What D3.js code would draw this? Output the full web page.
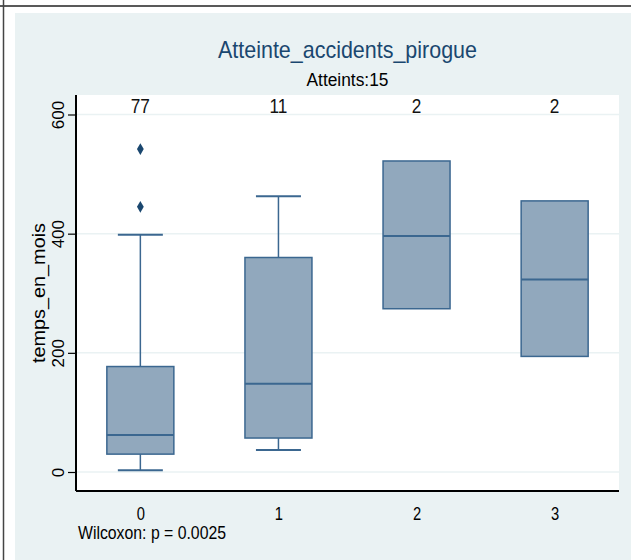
<!DOCTYPE html>
<html><head><meta charset="utf-8">
<script src="https://cdn.jsdelivr.net/npm/d3@7"></script>
<style>
html,body{margin:0;padding:0;background:#fff;}
svg text{font-family:"Liberation Sans",Arial,sans-serif;}
</style></head>
<body>
<svg id="c" width="631" height="560"></svg>
<script>
const categories = ["0","1","2","3"];
const counts = ["77","11","2","2"];
const q1 = [30, 57, 274, 194];
const median = [62, 148, 396, 323];
const q3 = [177, 360, 522, 455];
const whiskerLow = [3, 37, null, null];
const whiskerHigh = [398, 463, null, null];
const outliers = [[0, 542], [0, 445]];
const yTicks = [0, 200, 400, 600];
const titleText = "Atteinte_accidents_pirogue";
const subtitleText = "Atteints:15";
const yTitle = "temps_en_mois";
const noteText = "Wilcoxon: p = 0.0025";

const svg = d3.select("#c");
const W = 631, H = 560;
const L = 76, R = 619, T = 95, B = 491;
const NARROW = 0.82;

// outer frame
svg.append("rect").attr("x",0).attr("y",0).attr("width",W).attr("height",H).attr("fill","#fff");
svg.append("rect").attr("x",15).attr("y",13).attr("width",W-15).attr("height",H-13).attr("fill","#eaf2f3");
svg.append("line").attr("x1",0).attr("x2",W).attr("y1",6).attr("y2",6).attr("stroke","#222").attr("stroke-width",1.5);
svg.append("line").attr("x1",3.5).attr("x2",3.5).attr("y1",0).attr("y2",H).attr("stroke","#444").attr("stroke-width",1.5);

// plot region
svg.append("rect").attr("x",L).attr("y",T).attr("width",R-L).attr("height",B-T).attr("fill","#fff");

const x = d3.scalePoint().domain(categories).range([L,R]).padding(0.466);
const y = d3.scaleLinear().domain([0,600]).range([472,114.5]);

// gridlines
svg.append("g").selectAll("line").data(yTicks).join("line")
  .attr("x1",L).attr("x2",R).attr("y1",d=>y(d)).attr("y2",d=>y(d))
  .attr("stroke","#eaf2f3").attr("stroke-width",1.5);

const boxW = 67, capW = 45;
const fill = "#91a8bd", stroke = "#3b6790";
const g = svg.append("g");
categories.forEach((c,i)=>{
  const cx = x(c);
  if (whiskerHigh[i] != null) {
    g.append("line").attr("x1",cx).attr("x2",cx).attr("y1",y(q3[i])).attr("y2",y(whiskerHigh[i])).attr("stroke",stroke).attr("stroke-width",1.5);
    g.append("line").attr("x1",cx-capW/2).attr("x2",cx+capW/2).attr("y1",y(whiskerHigh[i])).attr("y2",y(whiskerHigh[i])).attr("stroke",stroke).attr("stroke-width",2);
  }
  if (whiskerLow[i] != null) {
    g.append("line").attr("x1",cx).attr("x2",cx).attr("y1",y(q1[i])).attr("y2",y(whiskerLow[i])).attr("stroke",stroke).attr("stroke-width",1.5);
    g.append("line").attr("x1",cx-capW/2).attr("x2",cx+capW/2).attr("y1",y(whiskerLow[i])).attr("y2",y(whiskerLow[i])).attr("stroke",stroke).attr("stroke-width",2);
  }
  g.append("rect").attr("x",cx-boxW/2).attr("y",y(q3[i])).attr("width",boxW).attr("height",y(q1[i])-y(q3[i]))
    .attr("fill",fill).attr("stroke",stroke).attr("stroke-width",1.5);
  g.append("line").attr("x1",cx-boxW/2).attr("x2",cx+boxW/2).attr("y1",y(median[i])).attr("y2",y(median[i])).attr("stroke",stroke).attr("stroke-width",2);
});

// outliers
svg.append("g").selectAll("path").data(outliers).join("path")
  .attr("d", d3.symbol().type(d3.symbolDiamond).size(40))
  .attr("transform", d=>`translate(${x(categories[d[0]])},${y(d[1])})`)
  .attr("fill","#1a476f");

// y axis
const yAxis = d3.axisLeft(y).tickValues(yTicks).tickSize(8).tickPadding(4);
const ya = svg.append("g").attr("transform",`translate(${L},0)`).call(yAxis);
ya.attr("font-family",null);
ya.select(".domain").attr("d",`M0,${T}V${B}`).attr("stroke","#000").attr("stroke-width",2);
ya.selectAll(".tick line").attr("stroke","#000").attr("stroke-width",1.2);
ya.selectAll(".tick text").attr("font-size",17).attr("fill","#000")
  .attr("text-anchor","middle").attr("x",0)
  .attr("transform","translate(-18,0) rotate(-90)")
  .attr("dy","0.35em");

// x axis
const xAxis = d3.axisBottom(x).tickSize(0).tickPadding(16);
const xa = svg.append("g").attr("transform",`translate(0,${B})`).call(xAxis);
xa.attr("font-family",null);
xa.select(".domain").attr("d",`M${L},0H${R}`).attr("stroke","#000").attr("stroke-width",2);
xa.selectAll(".tick text").attr("font-size",18).attr("fill","#000")
  .attr("transform",`scale(${NARROW},1)`).attr("x",0);

// counts
svg.append("g").selectAll("text").data(categories).join("text")
  .attr("transform",d=>`translate(${x(d)},112.5) scale(${NARROW},1)`).attr("text-anchor","middle")
  .attr("font-size",21).attr("fill","#111").text((d,i)=>counts[i]);

// titles
svg.append("text").attr("x",(L+R)/2 - 129.5).attr("y",58)
  .attr("textLength",259).attr("lengthAdjust","spacingAndGlyphs")
  .attr("font-size",24).attr("fill","#1a476f").text(titleText);
svg.append("text").attr("x",(L+R)/2 - 41).attr("y",86)
  .attr("textLength",82).attr("lengthAdjust","spacingAndGlyphs")
  .attr("font-size",18).attr("fill","#000").text(subtitleText);
svg.append("text").attr("transform",`translate(45,${(T+B)/2}) rotate(-90)`).attr("x",-70)
  .attr("textLength",140).attr("lengthAdjust","spacingAndGlyphs")
  .attr("font-size",18).attr("fill","#000").text(yTitle);
svg.append("text").attr("x",78).attr("y",539)
  .attr("textLength",148).attr("lengthAdjust","spacingAndGlyphs")
  .attr("font-size",17.5).attr("fill","#000").text(noteText);
</script>
</body></html>
